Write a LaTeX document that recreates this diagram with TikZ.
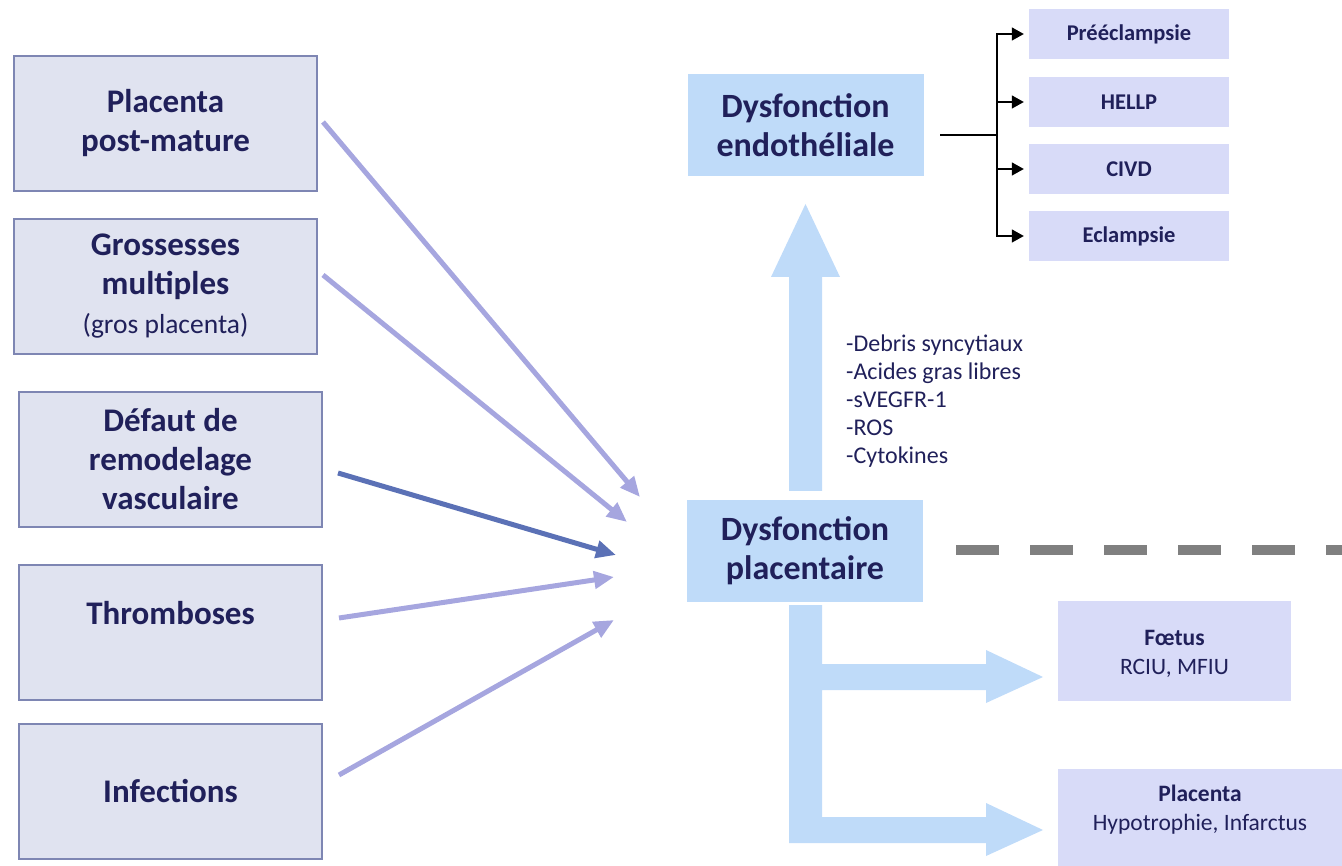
\documentclass[tikz,border=0pt]{standalone}
\usepackage{fontspec}
\setmainfont{Carlito}
\usetikzlibrary{arrows.meta}
\definecolor{txt}{HTML}{20205A}
\definecolor{leftfill}{HTML}{E0E3F0}
\definecolor{leftborder}{HTML}{7E86B3}
\definecolor{blk}{HTML}{BFDBF9}
\definecolor{rfill}{HTML}{D8DBF8}
\definecolor{larrow}{HTML}{A6A6DF}
\definecolor{darrow}{HTML}{5B71B6}
\definecolor{dashgray}{HTML}{808080}
\tikzset{
  leftbox/.style={draw=leftborder, line width=1.5pt, fill=leftfill, minimum width=303, minimum height=135, inner sep=0pt, align=center, text=txt, font=\fontsize{33}{39}\selectfont\bfseries},
  centerbox/.style={fill=blk, minimum width=236, minimum height=102, inner sep=0pt, align=center, text=txt, font=\fontsize{34}{39}\selectfont\bfseries},
  smallbox/.style={fill=rfill, minimum width=200, minimum height=50, inner sep=0pt, align=center, text=txt, font=\fontsize{22.5}{24}\selectfont\bfseries},
  outbox/.style={fill=rfill, inner sep=0pt},
  outtext/.style={inner sep=0pt, align=center, text=txt, font=\fontsize{23.5}{29}\selectfont},
  lightarr/.style={draw=larrow, line width=5pt, -{Triangle[length=20pt,width=17pt]}},
  darkarr/.style={draw=darrow, line width=5pt, -{Triangle[length=20pt,width=17pt]}},
  blackarr/.style={draw=black, line width=1.5pt, -{Triangle[length=12pt,width=13pt]}, shorten >=5pt},
}
\begin{document}
\begin{tikzpicture}[x=1pt,y=-1pt]
\useasboundingbox (0,0) rectangle (1342,866);

% left boxes
\node[leftbox] (b1) at (165.5,123.5) {Placenta\\post-mature};
\node[leftbox] (b2) at (165.5,286.5) {Grossesses\\multiples\\{\mdseries\fontsize{27.5}{37}\selectfont (gros placenta)}};
\node[leftbox] (b3) at (170.5,459.5) {Défaut de\\remodelage\\vasculaire};
\node[leftbox] (b4) at (170.5,632.5) {Thromboses\\\phantom{X}};
\node[leftbox] (b5) at (170.5,791.5) {Infections};

% center boxes
\node[centerbox] (endo) at (805.5,125) {Dysfonction\\endothéliale};
\node[centerbox] (plac) at (805,550.5) {Dysfonction\\placentaire};

% right top boxes
\node[smallbox] (r1) at (1129,34) {Prééclampsie};
\node[smallbox] (r2) at (1129,102) {HELLP};
\node[smallbox] (r3) at (1129,169) {CIVD};
\node[smallbox] (r4) at (1129,236) {Eclampsie};

% outcome boxes
\node[outbox, minimum width=233, minimum height=100] (foetus) at (1174.5,651) {};
\node[outtext] (foetust) at ([yshift=-3pt]foetus.center) {\textbf{Fœtus}\\RCIU, MFIU};
\node[outbox, minimum width=284, minimum height=97] (placb) at (1200,817.5) {};
\node[outtext] (placbt) at ([yshift=8pt]placb.center) {\textbf{Placenta}\\Hypotrophie, Infarctus};

% list of factors
\node[anchor=north west, align=left, text=txt, inner sep=0pt, font=\fontsize{24}{28}\selectfont] (list) at (846,335) {-Debris syncytiaux\\-Acides gras libres\\-sVEGFR-1\\-ROS\\-Cytokines};

% left arrows
\coordinate (s1) at (323,122); \coordinate (e1) at (640,497);
\coordinate (s2) at (323,275); \coordinate (e2) at (627,522);
\coordinate (s3) at (338,473); \coordinate (e3) at (616,555);
\coordinate (s4) at (339,618); \coordinate (e4) at (614,577);
\coordinate (s5) at (339,775); \coordinate (e5) at (614,620);
\draw[lightarr] (s1) -- (e1);
\draw[lightarr] (s2) -- (e2);
\draw[darkarr] (s3) -- (e3);
\draw[lightarr] (s4) -- (e4);
\draw[lightarr] (s5) -- (e5);

% up block arrow
\fill[blk] (789,491) -- (789,277) -- (771,277) -- (805.5,204) -- (840,277) -- (822,277) -- (822,491) -- cycle;

% down branch block arrows
\fill[blk] (789,605) -- (822,605) -- (822,664) -- (986,664) -- (986,650) -- (1043,677) -- (986,703) -- (986,690) -- (822,690) -- (822,817) -- (986,817) -- (986,803) -- (1043,830) -- (986,856) -- (986,843) -- (789,843) -- cycle;

% dashed line
\coordinate (d1) at (956,550);
\coordinate (d2) at (1342,550);
\draw[dashgray, line width=10pt, dash pattern=on 43pt off 31pt] (d1) -- (d2);

% black connector
\coordinate (jstart) at (940,135);
\coordinate (jn) at (997,135);
\draw[black, line width=1.5pt] (jstart) -- (jn);
\draw[blackarr] (jn) |- (r1.west);
\draw[blackarr] (jn) |- (r2.west);
\draw[blackarr] (jn) |- (r3.west);
\draw[blackarr] (jn) |- (r4.west);
\end{tikzpicture}
\end{document}
